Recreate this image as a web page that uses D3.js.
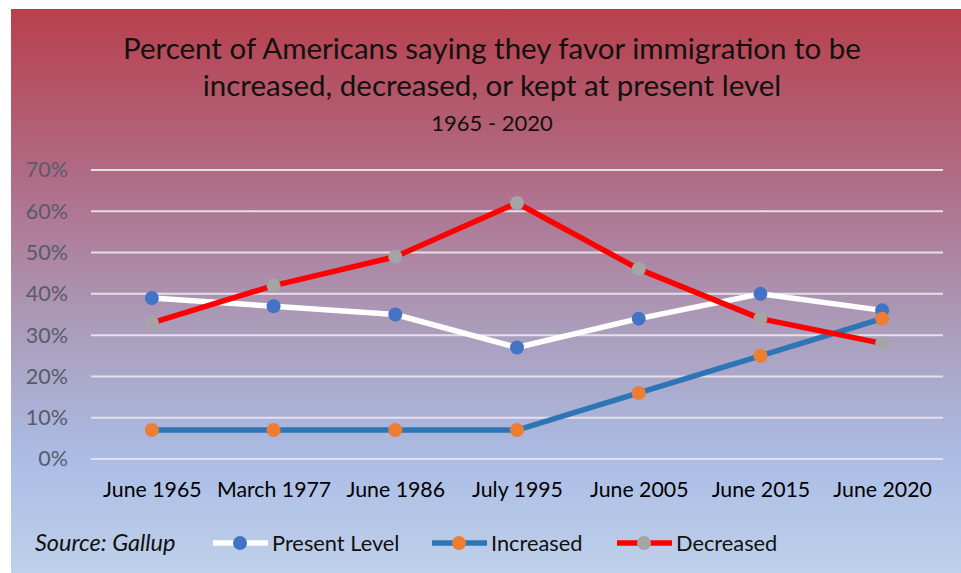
<!DOCTYPE html>
<html>
<head>
<meta charset="utf-8">
<script src="https://cdn.jsdelivr.net/npm/d3@7"></script>
<style>
  html, body { margin: 0; padding: 0; background: #fff; }
  svg { display: block; }
  text { font-family: Lato, "Open Sans", "Noto Sans", sans-serif; }
</style>
</head>
<body>
<svg id="chart" width="961" height="573"></svg>
<script>
// Survey dates (x categories)
const categories = ["June 1965", "March 1977", "June 1986", "July 1995", "June 2005", "June 2015", "June 2020"];
// Percent favoring each option
const presentLevel = [39, 37, 35, 27, 34, 40, 36];
const increased    = [7, 7, 7, 7, 16, 25, 34];
const decreased    = [33, 42, 49, 62, 46, 34, 28];
const yTicks = [0, 10, 20, 30, 40, 50, 60, 70];

const series = [
  { name: "Present Level", values: presentLevel, line: "#ffffff", marker: "#4472c4" },
  { name: "Increased",     values: increased,    line: "#2e75b6", marker: "#ed7d31" },
  { name: "Decreased",     values: decreased,    line: "#ff0000", marker: "#a5a5a5" }
];

const svg = d3.select("#chart");
const W = 961, H = 573;

// Background panel with red-to-blue vertical gradient
const defs = svg.append("defs");
const grad = defs.append("linearGradient").attr("id", "bg").attr("x1", 0).attr("y1", 0).attr("x2", 0).attr("y2", 1);
grad.append("stop").attr("offset", "0%").attr("stop-color", "#b8404c");
grad.append("stop").attr("offset", "30%").attr("stop-color", "#b06c86");
grad.append("stop").attr("offset", "55%").attr("stop-color", "#ab9ab8");
grad.append("stop").attr("offset", "80%").attr("stop-color", "#abbde5");
grad.append("stop").attr("offset", "100%").attr("stop-color", "#bfd0ea");

svg.append("rect").attr("x", 11).attr("y", 9).attr("width", W - 11).attr("height", H - 9)
  .attr("fill", "url(#bg)");

// Title
const title = svg.append("g").attr("text-anchor", "middle").attr("fill", "#111");
title.append("text").attr("x", 492).attr("y", 59).attr("font-size", 29.5)
  .text("Percent of Americans saying they favor immigration to be");
title.append("text").attr("x", 492).attr("y", 96).attr("font-size", 29.5)
  .text("increased, decreased, or kept at present level");
title.append("text").attr("x", 492).attr("y", 131).attr("font-size", 22)
  .text("1965 - 2020");

// Plot area
const plot = { left: 91, right: 943, top: 170, bottom: 459 };
const x = d3.scalePoint().domain(categories).range([plot.left, plot.right]).padding(0.5);
const y = d3.scaleLinear().domain([0, 70]).range([plot.bottom, plot.top]);

// Gridlines
svg.append("g").selectAll("line").data(yTicks).join("line")
  .attr("x1", plot.left).attr("x2", plot.right)
  .attr("y1", d => y(d)).attr("y2", d => y(d))
  .attr("stroke", "#e4dfe8").attr("stroke-width", 2);

// Y axis labels
const yAxis = svg.append("g").attr("transform", `translate(${plot.left - 23},0)`)
  .call(d3.axisLeft(y).tickValues(yTicks).tickFormat(d => d + "%").tickSize(0).tickPadding(0));
yAxis.select(".domain").remove();
yAxis.selectAll("text").attr("font-size", 21.5).attr("fill", "#5a5a6a")
  .style("font-family", "Lato, 'Open Sans', sans-serif");

// X axis labels
const xAxis = svg.append("g").attr("transform", `translate(0,${plot.bottom + 22})`)
  .call(d3.axisBottom(x).tickSize(0).tickPadding(0));
xAxis.select(".domain").remove();
xAxis.selectAll("text").attr("font-size", 21.3).attr("fill", "#000").attr("dy", "0.75em")
  .style("font-family", "Lato, 'Open Sans', sans-serif");

// Lines and markers
const line = d3.line().x((d, i) => x(categories[i])).y(d => y(d));
series.forEach(s => {
  const g = svg.append("g");
  g.append("path").datum(s.values).attr("d", line)
    .attr("fill", "none").attr("stroke", s.line).attr("stroke-width", 5.5)
    .attr("stroke-linejoin", "round");
  g.selectAll("circle").data(s.values).join("circle")
    .attr("cx", (d, i) => x(categories[i])).attr("cy", d => y(d))
    .attr("r", 7).attr("fill", s.marker);
});

// Source note
svg.append("text").attr("x", 35).attr("y", 551).attr("font-size", 23.5)
  .attr("font-style", "italic").attr("fill", "#111").text("Source: Gallup");

// Legend
const legendX = [213, 432, 617];
series.forEach((s, i) => {
  const g = svg.append("g").attr("transform", `translate(${legendX[i]},543)`);
  g.append("line").attr("x1", 0).attr("x2", 55).attr("y1", 0).attr("y2", 0)
    .attr("stroke", s.line).attr("stroke-width", 5.5);
  g.append("circle").attr("cx", 27).attr("cy", 0).attr("r", 7).attr("fill", s.marker);
  g.append("text").attr("x", 59).attr("y", 8).attr("font-size", 21.8).attr("fill", "#111").text(s.name);
});
</script>
</body>
</html>
